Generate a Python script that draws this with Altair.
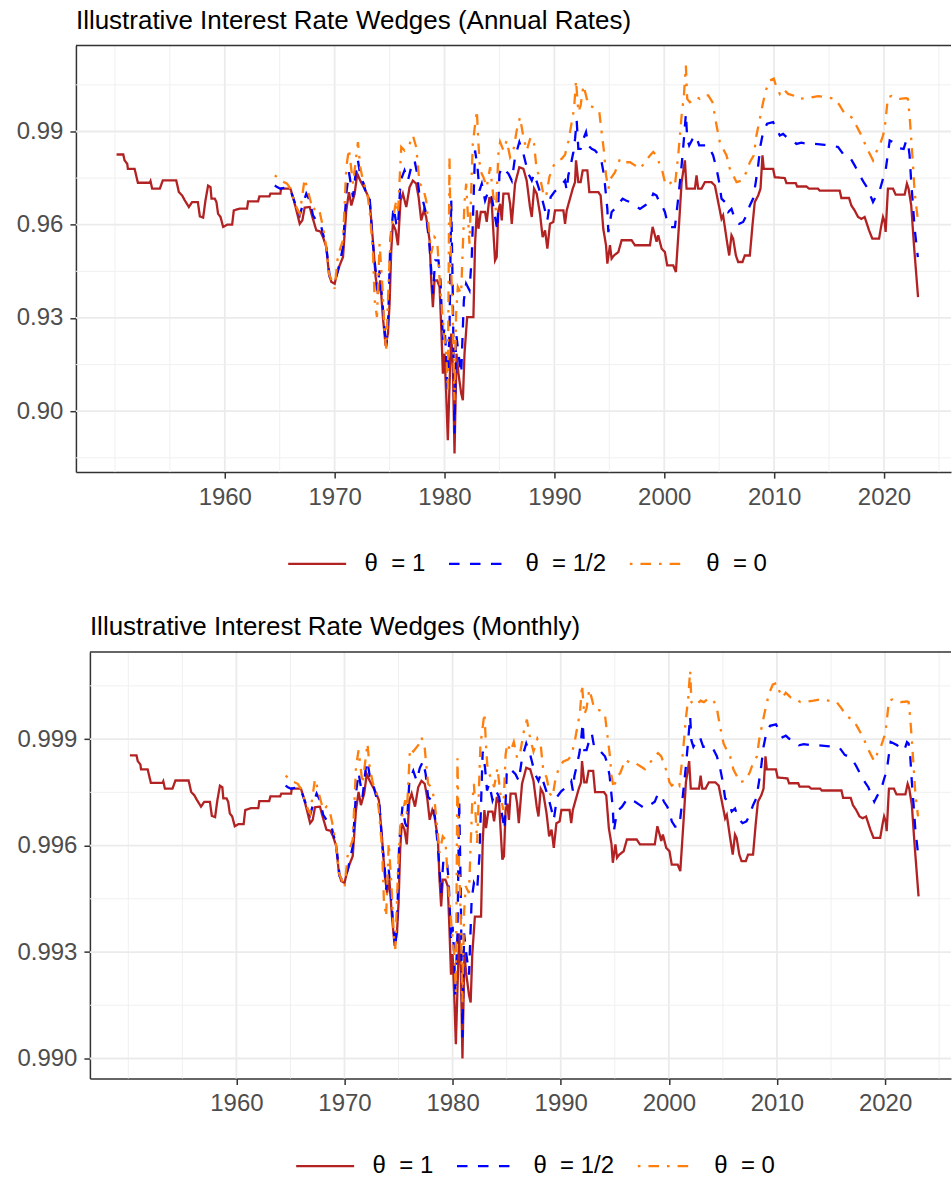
import altair as alt
import pandas as pd

# Annual interest-rate wedges, (year, wedge) pairs for each theta
wedge_theta_1 = [
    (1950.15, 0.9826), (1950.76, 0.9826), (1950.88, 0.9807), (1951.12, 0.9796), (1951.18, 0.9780),
    (1951.79, 0.9780), (1952.09, 0.9735), (1953.18, 0.9735), (1953.24, 0.9740), (1953.39, 0.9716),
    (1954.09, 0.9716), (1954.36, 0.9743), (1955.58, 0.9743), (1955.82, 0.9705), (1956.12, 0.9694),
    (1956.33, 0.9680), (1956.73, 0.9657), (1957.03, 0.9673), (1957.55, 0.9673), (1957.73, 0.9627),
    (1958.03, 0.9623), (1958.24, 0.9678), (1958.48, 0.9726), (1958.70, 0.9721), (1958.79, 0.9684),
    (1959.09, 0.9684), (1959.24, 0.9673), (1959.39, 0.9635), (1959.61, 0.9625), (1959.85, 0.9593),
    (1960.21, 0.9600), (1960.67, 0.9600), (1960.82, 0.9646), (1961.36, 0.9652), (1962.03, 0.9652),
    (1962.12, 0.9675), (1963.03, 0.9675), (1963.15, 0.9691), (1964.06, 0.9691), (1964.15, 0.9700),
    (1965.06, 0.9700), (1965.12, 0.9716), (1965.97, 0.9716), (1966.21, 0.9689), (1966.52, 0.9646),
    (1966.82, 0.9603), (1967.06, 0.9614), (1967.27, 0.9655), (1967.73, 0.9657), (1967.97, 0.9625),
    (1968.33, 0.9582), (1968.70, 0.9578), (1968.94, 0.9560), (1969.24, 0.9528), (1969.48, 0.9442),
    (1969.70, 0.9416), (1970.00, 0.9410), (1970.21, 0.9442), (1970.45, 0.9469), (1970.76, 0.9496),
    (1971.06, 0.9646), (1971.30, 0.9705), (1971.52, 0.9662), (1971.82, 0.9700), (1972.06, 0.9764),
    (1972.33, 0.9742), (1972.64, 0.9721), (1972.94, 0.9700), (1973.18, 0.9678), (1973.48, 0.9550),
    (1973.73, 0.9432), (1973.94, 0.9378), (1974.15, 0.9421), (1974.39, 0.9303), (1974.64, 0.9210),
    (1974.85, 0.9250), (1975.00, 0.9346), (1975.15, 0.9517), (1975.30, 0.9603), (1975.55, 0.9582),
    (1975.76, 0.9534), (1976.00, 0.9678), (1976.21, 0.9700), (1976.52, 0.9657), (1976.82, 0.9721),
    (1977.12, 0.9742), (1977.42, 0.9732), (1977.64, 0.9689), (1977.88, 0.9614), (1978.12, 0.9646),
    (1978.33, 0.9625), (1978.64, 0.9550), (1978.79, 0.9421), (1978.94, 0.9335), (1979.09, 0.9421),
    (1979.33, 0.9421), (1979.55, 0.9400), (1979.70, 0.9271), (1979.85, 0.9121), (1980.00, 0.9185),
    (1980.15, 0.9057), (1980.30, 0.8907), (1980.45, 0.9078), (1980.61, 0.9250), (1980.76, 0.9142),
    (1980.91, 0.8864), (1981.09, 0.9185), (1981.27, 0.9121), (1981.52, 0.9057), (1981.67, 0.9035),
    (1981.82, 0.9185), (1982.06, 0.9303), (1982.63, 0.9303), (1982.78, 0.9539), (1982.94, 0.9646),
    (1983.09, 0.9587), (1983.30, 0.9641), (1983.69, 0.9641), (1983.84, 0.9609), (1984.09, 0.9689),
    (1984.30, 0.9667), (1984.60, 0.9485), (1984.75, 0.9496), (1984.90, 0.9646), (1985.06, 0.9667),
    (1985.21, 0.9614), (1985.36, 0.9700), (1985.82, 0.9700), (1985.97, 0.9667), (1986.12, 0.9603),
    (1986.42, 0.9732), (1986.81, 0.9785), (1987.18, 0.9780), (1987.48, 0.9742), (1987.78, 0.9657),
    (1987.94, 0.9625), (1988.15, 0.9716), (1988.39, 0.9700), (1988.69, 0.9635), (1988.93, 0.9560),
    (1989.15, 0.9582), (1989.36, 0.9523), (1989.60, 0.9603), (1989.90, 0.9609), (1990.06, 0.9646),
    (1990.82, 0.9646), (1990.97, 0.9603), (1991.12, 0.9646), (1991.42, 0.9684), (1991.67, 0.9716),
    (1991.88, 0.9737), (1991.97, 0.9807), (1992.18, 0.9737), (1992.39, 0.9737), (1992.58, 0.9775),
    (1993.00, 0.9775), (1993.18, 0.9705), (1994.00, 0.9705), (1994.21, 0.9694), (1994.45, 0.9587),
    (1994.70, 0.9534), (1994.82, 0.9475), (1995.06, 0.9534), (1995.21, 0.9491), (1995.42, 0.9501),
    (1995.82, 0.9512), (1996.12, 0.9550), (1997.03, 0.9550), (1997.33, 0.9534), (1998.70, 0.9534),
    (1998.94, 0.9593), (1999.15, 0.9566), (1999.30, 0.9545), (1999.45, 0.9566), (1999.76, 0.9523),
    (2000.06, 0.9512), (2000.27, 0.9469), (2000.82, 0.9469), (2001.06, 0.9448), (2001.36, 0.9609),
    (2001.58, 0.9737), (2001.88, 0.9807), (2002.03, 0.9716), (2002.79, 0.9716), (2002.94, 0.9759),
    (2003.09, 0.9716), (2003.39, 0.9716), (2003.70, 0.9737), (2004.30, 0.9737), (2004.61, 0.9726),
    (2004.91, 0.9673), (2005.21, 0.9619), (2005.36, 0.9630), (2005.67, 0.9555), (2005.91, 0.9501),
    (2006.12, 0.9566), (2006.27, 0.9555), (2006.52, 0.9501), (2006.73, 0.9480), (2007.12, 0.9480),
    (2007.33, 0.9501), (2007.79, 0.9501), (2008.03, 0.9598), (2008.24, 0.9673), (2008.55, 0.9694),
    (2008.76, 0.9716), (2008.94, 0.9823), (2009.06, 0.9780), (2009.91, 0.9780), (2010.06, 0.9753),
    (2010.97, 0.9750), (2011.12, 0.9734), (2011.97, 0.9734), (2012.09, 0.9723), (2012.94, 0.9723),
    (2013.18, 0.9716), (2014.00, 0.9716), (2014.15, 0.9710), (2015.97, 0.9710), (2016.12, 0.9686),
    (2016.82, 0.9686), (2017.03, 0.9662), (2017.33, 0.9646), (2017.64, 0.9625), (2017.94, 0.9619),
    (2018.24, 0.9625), (2018.39, 0.9609), (2018.64, 0.9582), (2018.94, 0.9555), (2019.55, 0.9555),
    (2019.76, 0.9598), (2019.91, 0.9625), (2020.06, 0.9609), (2020.15, 0.9577), (2020.36, 0.9716),
    (2020.82, 0.9716), (2021.06, 0.9697), (2021.88, 0.9697), (2022.09, 0.9732), (2022.24, 0.9716),
    (2022.48, 0.9662), (2022.73, 0.9534), (2023.10, 0.9367),
]

wedge_theta_half = [
    (1964.55, 0.9726), (1964.76, 0.9721), (1965.06, 0.9716), (1965.67, 0.9721), (1965.97, 0.9711),
    (1966.52, 0.9657), (1966.82, 0.9630), (1967.12, 0.9667), (1967.42, 0.9700), (1967.73, 0.9678),
    (1968.03, 0.9630), (1968.33, 0.9614), (1968.79, 0.9592), (1968.94, 0.9571), (1969.24, 0.9528),
    (1969.55, 0.9432), (1969.85, 0.9416), (1970.15, 0.9432), (1970.45, 0.9475), (1970.76, 0.9528),
    (1971.06, 0.9700), (1971.30, 0.9769), (1971.67, 0.9689), (1971.97, 0.9785), (1972.12, 0.9807),
    (1972.33, 0.9759), (1972.64, 0.9732), (1972.94, 0.9689), (1973.18, 0.9689), (1973.48, 0.9539),
    (1973.73, 0.9453), (1973.85, 0.9389), (1974.09, 0.9453), (1974.33, 0.9357), (1974.55, 0.9260),
    (1974.70, 0.9207), (1974.88, 0.9303), (1975.06, 0.9539), (1975.36, 0.9657), (1975.61, 0.9603),
    (1975.76, 0.9592), (1976.00, 0.9742), (1976.36, 0.9775), (1976.67, 0.9742), (1976.97, 0.9785),
    (1977.27, 0.9807), (1977.51, 0.9764), (1977.73, 0.9689), (1978.03, 0.9678), (1978.33, 0.9635),
    (1978.64, 0.9528), (1978.94, 0.9378), (1979.15, 0.9485), (1979.45, 0.9485), (1979.63, 0.9421),
    (1979.85, 0.9228), (1980.00, 0.9271), (1980.15, 0.9185), (1980.24, 0.9057), (1980.45, 0.9250),
    (1980.61, 0.9678), (1980.76, 0.9357), (1980.91, 0.8928), (1981.06, 0.9250), (1981.27, 0.9185),
    (1981.52, 0.9121), (1981.76, 0.9357), (1981.97, 0.9410), (1982.27, 0.9389), (1982.48, 0.9496),
    (1982.78, 0.9839), (1983.00, 0.9785), (1983.18, 0.9710), (1983.39, 0.9732), (1983.69, 0.9678),
    (1984.00, 0.9710), (1984.30, 0.9689), (1984.60, 0.9625), (1984.81, 0.9582), (1985.00, 0.9764),
    (1985.21, 0.9785), (1985.51, 0.9775), (1985.82, 0.9764), (1986.12, 0.9742), (1986.42, 0.9817),
    (1986.81, 0.9866), (1987.18, 0.9828), (1987.63, 0.9764), (1987.94, 0.9742), (1988.15, 0.9764),
    (1988.45, 0.9732), (1988.84, 0.9689), (1989.15, 0.9646), (1989.36, 0.9614), (1989.66, 0.9689),
    (1990.06, 0.9708), (1990.51, 0.9721), (1990.97, 0.9742), (1991.12, 0.9710), (1991.27, 0.9759),
    (1991.48, 0.9791), (1991.73, 0.9834), (1991.88, 0.9876), (1992.03, 0.9935), (1992.18, 0.9844),
    (1992.39, 0.9844), (1992.64, 0.9876), (1992.88, 0.9898), (1993.09, 0.9855), (1993.39, 0.9844),
    (1993.70, 0.9839), (1994.09, 0.9823), (1994.30, 0.9801), (1994.52, 0.9759), (1994.70, 0.9694),
    (1994.82, 0.9651), (1994.91, 0.9576), (1995.06, 0.9609), (1995.21, 0.9641), (1995.67, 0.9657),
    (1995.97, 0.9673), (1996.21, 0.9684), (1996.52, 0.9678), (1996.88, 0.9673), (1997.33, 0.9662),
    (1997.79, 0.9651), (1998.24, 0.9662), (1998.70, 0.9673), (1999.00, 0.9700), (1999.30, 0.9694),
    (1999.55, 0.9673), (1999.85, 0.9657), (2000.06, 0.9641), (2000.27, 0.9609), (2000.58, 0.9592),
    (2000.97, 0.9592), (2001.27, 0.9684), (2001.58, 0.9791), (2001.79, 0.9876), (2001.97, 0.9957),
    (2002.09, 0.9876), (2002.27, 0.9855), (2002.58, 0.9876), (2002.88, 0.9887), (2003.18, 0.9855),
    (2003.55, 0.9855), (2004.00, 0.9855), (2004.45, 0.9823), (2004.76, 0.9780), (2005.00, 0.9737),
    (2005.21, 0.9684), (2005.52, 0.9673), (2005.82, 0.9641), (2006.12, 0.9651), (2006.42, 0.9619),
    (2006.82, 0.9603), (2007.18, 0.9609), (2007.48, 0.9630), (2007.79, 0.9662), (2008.09, 0.9684),
    (2008.33, 0.9737), (2008.55, 0.9791), (2008.76, 0.9855), (2009.00, 0.9898), (2009.36, 0.9925),
    (2009.91, 0.9930), (2010.21, 0.9909), (2010.52, 0.9887), (2010.82, 0.9892), (2011.12, 0.9882),
    (2011.58, 0.9876), (2012.03, 0.9860), (2012.48, 0.9864), (2013.09, 0.9860), (2013.70, 0.9860),
    (2014.61, 0.9857), (2015.21, 0.9855), (2015.82, 0.9850), (2016.27, 0.9828), (2016.88, 0.9818),
    (2017.33, 0.9791), (2017.79, 0.9759), (2018.15, 0.9737), (2018.45, 0.9721), (2018.76, 0.9694),
    (2019.00, 0.9673), (2019.30, 0.9694), (2019.61, 0.9710), (2019.91, 0.9748), (2020.15, 0.9775),
    (2020.52, 0.9871), (2020.82, 0.9866), (2021.12, 0.9860), (2021.42, 0.9846), (2021.79, 0.9844),
    (2022.03, 0.9871), (2022.18, 0.9866), (2022.33, 0.9823), (2022.48, 0.9737), (2022.64, 0.9662),
    (2022.79, 0.9587), (2023.08, 0.9496),
]

wedge_theta_0 = [
    (1964.55, 0.9759), (1964.76, 0.9753), (1965.06, 0.9743), (1965.67, 0.9732), (1965.97, 0.9716),
    (1966.21, 0.9689), (1966.52, 0.9657), (1966.82, 0.9635), (1967.27, 0.9748), (1967.48, 0.9721),
    (1967.79, 0.9678), (1968.03, 0.9646), (1968.33, 0.9657), (1968.64, 0.9641), (1968.94, 0.9592),
    (1969.24, 0.9528), (1969.48, 0.9442), (1969.79, 0.9416), (1970.00, 0.9394), (1970.30, 0.9501),
    (1970.76, 0.9550), (1971.06, 0.9785), (1971.30, 0.9844), (1971.67, 0.9732), (1972.12, 0.9866),
    (1972.33, 0.9785), (1972.64, 0.9732), (1972.94, 0.9710), (1973.18, 0.9646), (1973.48, 0.9517),
    (1973.64, 0.9357), (1973.85, 0.9303), (1974.09, 0.9539), (1974.33, 0.9410), (1974.55, 0.9250),
    (1974.70, 0.9201), (1974.94, 0.9442), (1975.15, 0.9592), (1975.61, 0.9678), (1975.76, 0.9635),
    (1976.06, 0.9850), (1976.36, 0.9839), (1976.82, 0.9860), (1977.12, 0.9887), (1977.42, 0.9850),
    (1977.73, 0.9732), (1978.03, 0.9721), (1978.33, 0.9678), (1978.79, 0.9507), (1979.09, 0.9560),
    (1979.33, 0.9550), (1979.54, 0.9432), (1979.70, 0.9357), (1979.94, 0.9250), (1980.15, 0.9185),
    (1980.30, 0.9067), (1980.45, 0.9817), (1980.60, 0.9464), (1980.75, 0.9303), (1980.90, 0.9035),
    (1981.06, 0.9314), (1981.21, 0.9400), (1981.51, 0.9378), (1981.81, 0.9667), (1981.97, 0.9732),
    (1982.27, 0.9539), (1982.57, 0.9860), (1982.94, 0.9968), (1983.09, 0.9860), (1983.24, 0.9775),
    (1983.54, 0.9753), (1983.84, 0.9721), (1984.15, 0.9785), (1984.45, 0.9689), (1984.69, 0.9646),
    (1984.90, 0.9828), (1985.06, 0.9866), (1985.36, 0.9839), (1985.66, 0.9871), (1985.97, 0.9817),
    (1986.27, 0.9839), (1986.57, 0.9903), (1986.87, 0.9946), (1987.18, 0.9882), (1987.48, 0.9839),
    (1987.84, 0.9882), (1988.15, 0.9860), (1988.39, 0.9775), (1988.69, 0.9753), (1988.99, 0.9700),
    (1989.24, 0.9689), (1989.54, 0.9753), (1989.84, 0.9785), (1990.21, 0.9805), (1990.67, 0.9812),
    (1990.97, 0.9825), (1991.27, 0.9868), (1991.58, 0.9930), (1991.79, 0.9973), (1991.97, 1.0064),
    (1992.18, 0.9962), (1992.39, 0.9984), (1992.64, 1.0048), (1992.88, 1.0016), (1993.09, 0.9984),
    (1993.55, 0.9978), (1993.85, 0.9973), (1994.09, 0.9962), (1994.30, 0.9898), (1994.52, 0.9834),
    (1994.70, 0.9759), (1994.91, 0.9716), (1995.12, 0.9748), (1995.52, 0.9769), (1995.97, 0.9812),
    (1996.42, 0.9801), (1996.88, 0.9801), (1997.33, 0.9791), (1997.79, 0.9780), (1998.24, 0.9801),
    (1998.70, 0.9823), (1999.00, 0.9834), (1999.30, 0.9823), (1999.61, 0.9791), (1999.85, 0.9769),
    (2000.06, 0.9737), (2000.27, 0.9726), (2000.67, 0.9737), (2000.97, 0.9726), (2001.27, 0.9823),
    (2001.58, 0.9951), (2001.79, 1.0016), (2001.97, 1.0112), (2002.09, 1.0005), (2002.33, 0.9994),
    (2002.64, 1.0000), (2002.94, 1.0010), (2003.24, 1.0005), (2003.61, 1.0016), (2004.00, 1.0016),
    (2004.39, 0.9994), (2004.76, 0.9919), (2005.06, 0.9866), (2005.36, 0.9844), (2005.67, 0.9823),
    (2005.97, 0.9780), (2006.27, 0.9759), (2006.58, 0.9737), (2007.03, 0.9742), (2007.48, 0.9769),
    (2007.79, 0.9801), (2008.15, 0.9823), (2008.39, 0.9887), (2008.76, 0.9951), (2009.00, 0.9994),
    (2009.30, 1.0037), (2009.61, 1.0064), (2009.97, 1.0070), (2010.21, 1.0043), (2010.52, 1.0021),
    (2010.82, 1.0037), (2011.27, 1.0021), (2011.73, 1.0016), (2012.18, 1.0005), (2012.79, 1.0007),
    (2013.39, 1.0010), (2014.00, 1.0014), (2014.76, 1.0010), (2015.52, 1.0005), (2015.97, 0.9984),
    (2016.42, 0.9957), (2017.03, 0.9946), (2017.48, 0.9919), (2017.79, 0.9898), (2018.09, 0.9876),
    (2018.39, 0.9850), (2018.70, 0.9828), (2019.00, 0.9807), (2019.30, 0.9834), (2019.61, 0.9855),
    (2019.91, 0.9887), (2020.06, 0.9909), (2020.36, 1.0010), (2020.67, 1.0014), (2020.97, 1.0007),
    (2021.42, 1.0005), (2022.03, 1.0007), (2022.18, 1.0005), (2022.33, 0.9951), (2022.48, 0.9876),
    (2022.64, 0.9791), (2022.79, 0.9705), (2023.05, 0.9625),
]

series_labels = ["θ\u00a0 = 1", "θ\u00a0 = 1/2", "θ\u00a0 = 0"]
series_colors = ["#B22222", "#0000FF", "#FF7F0E"]
series_dashes = [[1, 0], [10.5, 10.5], [2.6, 8, 10.6, 8]]

x_domain = [1946.45, 2026.1]
x_major = [1960, 1970, 1980, 1990, 2000, 2010, 2020]
x_minor = [1950, 1955, 1965, 1975, 1985, 1995, 2005, 2015, 2025]

annual_domain = [0.8804, 1.01764]
annual_major = [0.90, 0.93, 0.96, 0.99]
annual_minor = [0.885, 0.915, 0.945, 0.975, 1.005]

monthly_domain = [0.989437, 1.001455]
monthly_major = [0.990, 0.993, 0.996, 0.999]
monthly_minor = [0.9915, 0.9945, 0.9975, 1.0005]

FONT = "Liberation Sans"
PANEL_W = 876
PANEL_H = 427
BORDER = "#333333"

rows = []
for label, pairs in zip(series_labels, [wedge_theta_1, wedge_theta_half, wedge_theta_0]):
    for yr, w in pairs:
        rows.append({"x": yr, "annual": w, "series": label})
wedges = pd.DataFrame(rows)
# a monthly gross wedge is the twelfth root of the annual one
wedges["monthly"] = wedges["annual"] ** (1.0 / 12.0)


def panel(value_col, title, y_domain, y_major, y_minor, y_fmt, x0, legend_x, legend_y):
    """One panel; x0 is the left edge of the plotting frame inside the view."""
    x_scale = alt.Scale(domain=x_domain, range=[x0, PANEL_W], nice=False, zero=False)
    y_scale = alt.Scale(domain=y_domain, nice=False, zero=False)
    x_enc = alt.X(
        "x:Q", scale=x_scale, title=None,
        axis=alt.Axis(values=x_major, format="d", grid=False, tickSize=6, tickWidth=1.5,
                      tickColor=BORDER, domainColor=BORDER, domainWidth=1.5,
                      labelFont=FONT, labelFontSize=24, labelColor="#4D4D4D",
                      labelPadding=7, labelFlush=False),
    )
    y_enc = alt.Y(
        "y:Q", scale=y_scale, title=None,
        axis=alt.Axis(values=y_major, format=y_fmt, grid=False, tickSize=6, tickWidth=1.5,
                      tickColor=BORDER, domainColor=BORDER, domainWidth=1.5, offset=-x0,
                      labelFont=FONT, labelFontSize=24, labelColor="#4D4D4D",
                      labelPadding=7, labelFlush=False),
    )

    gx_minor = alt.Chart(pd.DataFrame({"x": x_minor})).mark_rule(
        color="#F0F0F0", strokeWidth=1).encode(x=x_enc)
    gx_major = alt.Chart(pd.DataFrame({"x": x_major})).mark_rule(
        color="#EBEBEB", strokeWidth=1.8).encode(x=x_enc)
    gy_minor = alt.Chart(pd.DataFrame({"y": y_minor})).mark_rule(
        color="#F0F0F0", strokeWidth=1).encode(
        y=y_enc, x=alt.value(x0), x2=alt.value(PANEL_W))
    gy_major = alt.Chart(pd.DataFrame({"y": y_major})).mark_rule(
        color="#EBEBEB", strokeWidth=1.8).encode(
        y=y_enc, x=alt.value(x0), x2=alt.value(PANEL_W))

    legend = alt.Legend(
        orient="none", legendX=legend_x, legendY=legend_y, direction="horizontal",
        title=None, symbolType="stroke", symbolSize=3364, symbolStrokeWidth=2.2,
        labelFont=FONT, labelFontSize=24, labelColor="#000000", labelOffset=17,
        columnPadding=19, padding=0,
    )
    lines = alt.Chart(wedges).mark_line(strokeWidth=2.3, clip=True).encode(
        x=x_enc,
        y=alt.Y(f"{value_col}:Q", scale=y_scale, title=None),
        color=alt.Color("series:N", scale=alt.Scale(domain=series_labels, range=series_colors),
                        legend=legend),
        strokeDash=alt.StrokeDash("series:N",
                                  scale=alt.Scale(domain=series_labels, range=series_dashes),
                                  legend=legend),
    )

    top_border = alt.Chart(pd.DataFrame({"k": [0]})).mark_rule(
        color=BORDER, strokeWidth=1.5).encode(
        x=alt.value(x0), x2=alt.value(PANEL_W), y=alt.value(0))

    return alt.layer(gx_minor, gx_major, gy_minor, gy_major, lines, top_border).properties(
        width=PANEL_W, height=PANEL_H,
        title=alt.TitleParams(title, anchor="start", frame="group", font=FONT, fontSize=26,
                              fontWeight="normal", color="#000000", offset=11, dx=x0),
    )


top = panel("annual", "Illustrative Interest Rate Wedges (Annual Rates)",
            annual_domain, annual_major, annual_minor, ".2f", 0, 211, 488)
bottom = panel("monthly", "Illustrative Interest Rate Wedges (Monthly)",
               monthly_domain, monthly_major, monthly_minor, ".3f", 14, 219, 484)

chart = alt.vconcat(top, bottom, spacing=38).resolve_scale(
    color="independent", strokeDash="independent"
).resolve_legend(
    color="independent", strokeDash="independent"
).properties(
    padding={"left": 16, "top": 7, "right": 0, "bottom": 0},
    background="white",
).configure_view(stroke=None)

chart.save("out.html", embed_options={"renderer": "svg", "actions": False})
